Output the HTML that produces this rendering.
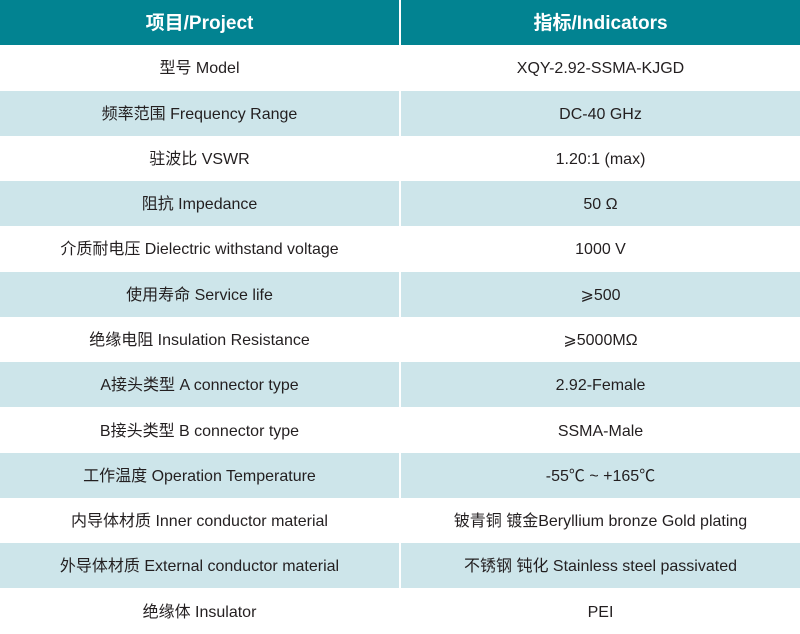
<!DOCTYPE html>
<html><head><meta charset="utf-8"><style>
html,body{margin:0;padding:0;background:#fff;}
table{border-collapse:collapse;width:800px;table-layout:fixed;font-family:"Liberation Sans","Noto Sans CJK SC",sans-serif;}
td,th{height:42.28px;padding:3px 0 0 0;text-align:center;vertical-align:middle;font-size:16px;color:#231f20;font-weight:normal;}
td:first-child,th:first-child{width:399px;border-right:2px solid #fff;}
th{background:#028391;color:#fff;font-size:19px;font-weight:bold;}
tr:nth-child(odd) td{background:#cde5ea;}
div{height:22px;line-height:22px;overflow:visible;white-space:nowrap;}
</style></head><body>
<table>
<tr><th><div>项目/Project</div></th><th><div>指标/Indicators</div></th></tr>
<tr><td><div>型号 Model</div></td><td><div>XQY-2.92-SSMA-KJGD</div></td></tr>
<tr><td><div>频率范围 Frequency Range</div></td><td><div>DC-40 GHz</div></td></tr>
<tr><td><div>驻波比 VSWR</div></td><td><div>1.20:1 (max)</div></td></tr>
<tr><td><div>阻抗 Impedance</div></td><td><div>50 Ω</div></td></tr>
<tr><td><div>介质耐电压 Dielectric withstand voltage</div></td><td><div>1000 V</div></td></tr>
<tr><td><div>使用寿命 Service life</div></td><td><div>⩾500</div></td></tr>
<tr><td><div>绝缘电阻 Insulation Resistance</div></td><td><div>⩾5000MΩ</div></td></tr>
<tr><td><div>A接头类型 A connector type</div></td><td><div>2.92-Female</div></td></tr>
<tr><td><div>B接头类型 B connector type</div></td><td><div>SSMA-Male</div></td></tr>
<tr><td><div>工作温度 Operation Temperature</div></td><td><div>-55℃ ~ +165℃</div></td></tr>
<tr><td><div>内导体材质 Inner conductor material</div></td><td><div>铍青铜 镀金Beryllium bronze Gold plating</div></td></tr>
<tr><td><div>外导体材质 External conductor material</div></td><td><div>不锈钢 钝化 Stainless steel passivated</div></td></tr>
<tr><td><div>绝缘体 Insulator</div></td><td><div>PEI</div></td></tr>
</table>
</body></html>
